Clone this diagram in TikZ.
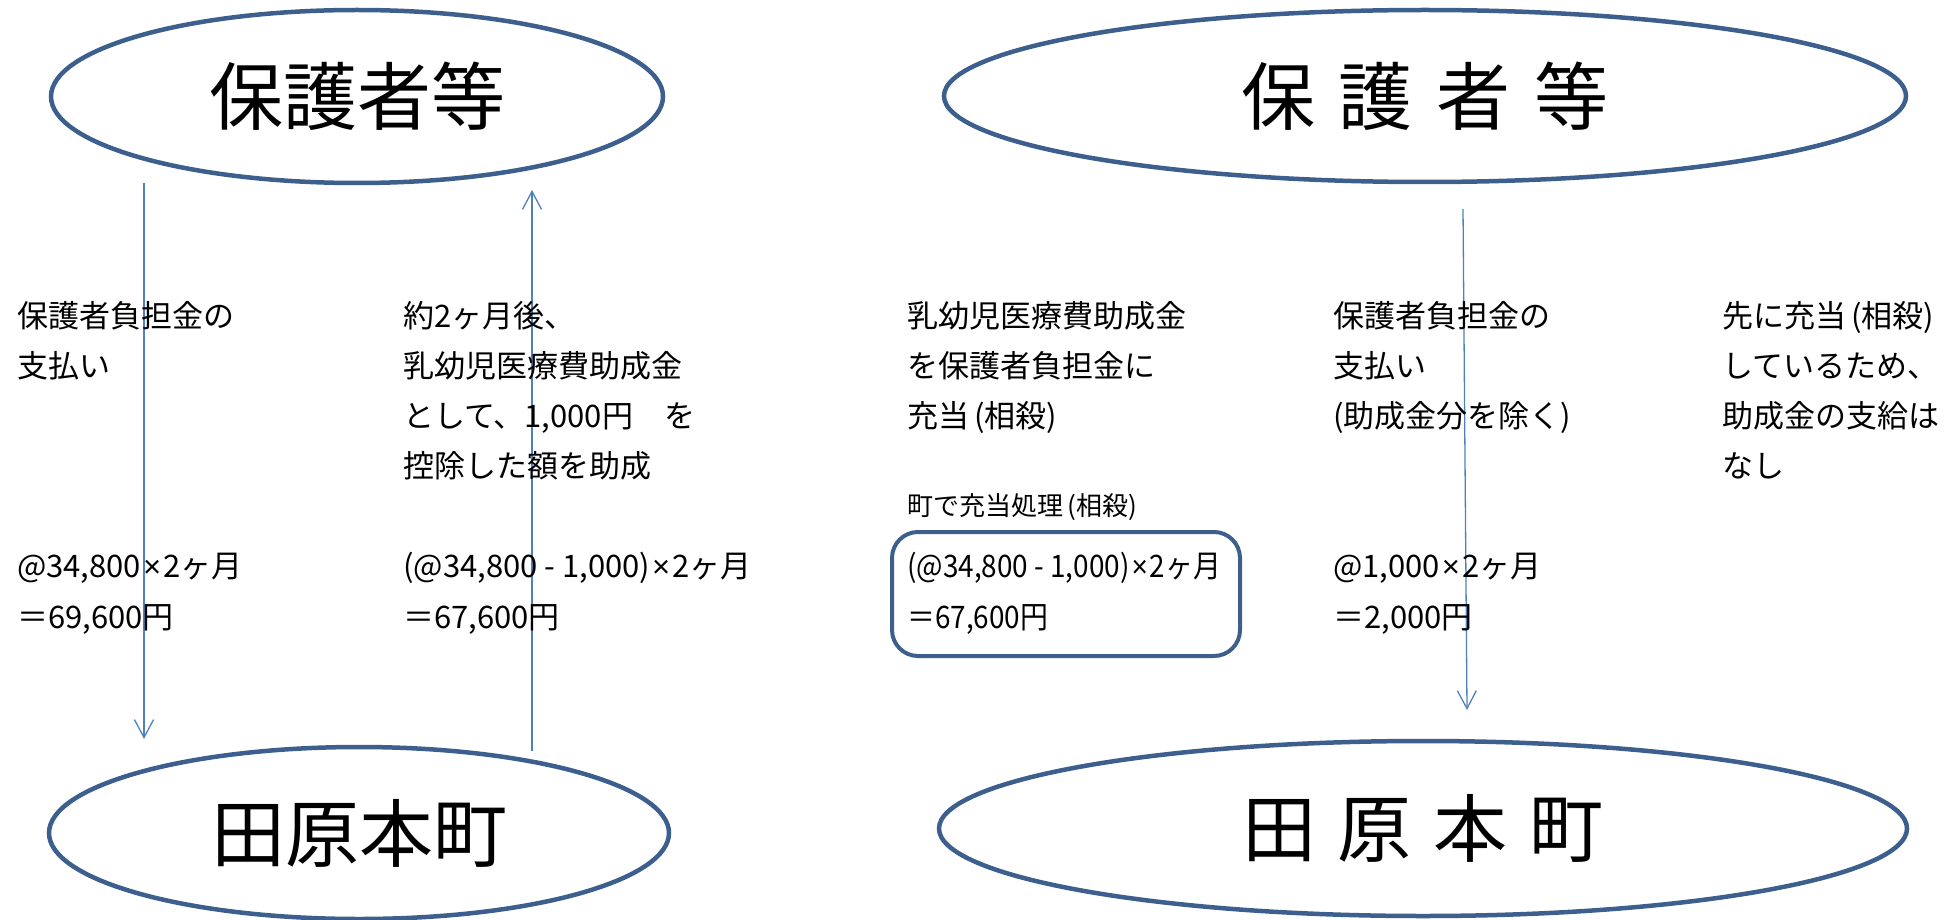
\documentclass[tikz,border=0pt]{standalone}
\usepackage{fontspec}
\setmainfont{Noto Sans CJK JP}
\newfontfamily\latn{Liberation Sans}
\newfontfamily\condjp[FakeStretch=0.9]{Noto Sans CJK JP}
\newfontfamily\condlatn[FakeStretch=0.9]{Liberation Sans}
\newcommand{\tms}{\hspace{2pt}{\latn ×}\hspace{2pt}}
\newcommand{\ctms}{\hspace{2pt}{\condlatn ×}\hspace{2pt}}
\usetikzlibrary{shapes.geometric,arrows.meta}
\definecolor{ellc}{RGB}{60,95,142}
\definecolor{arrc}{RGB}{79,129,189}
\begin{document}
\begin{tikzpicture}[x=1pt,y=-1pt,
  oval/.style={ellipse, draw=ellc, line width=4.5pt, inner sep=0pt, font=\fontsize{74}{74}\selectfont},
  txt/.style={anchor=base west, inner sep=0pt, font=\fontsize{31}{31}\selectfont},
  ctxt/.style={anchor=base west, inner sep=0pt, font=\condjp\fontsize{31}{31}\selectfont},
  small/.style={anchor=base west, inner sep=0pt, font=\fontsize{26}{26}\selectfont},
  flow/.style={draw=arrc, line width=1.3pt, -{Straight Barb[length=18pt,width=19pt]}},
  sumbox/.style={draw=ellc, line width=4pt, rounded corners=26pt, inner sep=0pt}]
\useasboundingbox (0,0) rectangle (1959,920);

% ellipses
\node[oval, minimum width=612pt, minimum height=173pt] (gl) at (357,96.5) {保護者等};
\node[oval, minimum width=962pt, minimum height=172pt] (gr) at (1425,96) {保\hspace{24pt}護\hspace{24pt}者\hspace{24pt}等};
\node[oval, minimum width=620pt, minimum height=172pt] (tl) at (359,833) {田原本町};
\node[oval, minimum width=968pt, minimum height=175pt] (tr) at (1423,828.5) {田\hspace{22pt}原\hspace{22pt}本\hspace{22pt}町};

% arrows
\coordinate (a1s) at (144,183);
\coordinate (a1e) at (144,739);
\coordinate (a2s) at (532,751);
\coordinate (a2e) at (532,190);
\coordinate (a3s) at (1463,209);
\coordinate (a3e) at (1467,710);
\draw[flow] (a1s) -- (a1e);
\draw[flow] (a2s) -- (a2e);
\draw[flow] (a3s) -- (a3e);

% column 1
\node[txt] (c1a) at (17,327) {保護者負担金の};
\node[txt] (c1b) at (17,377) {支払い};
\node[txt] (c1c) at (17,577) {@34,800\tms 2ヶ月};
\node[txt] (c1d) at (17,628) {＝69,600円};

% column 2
\node[txt] (c2a) at (403,327) {約2ヶ月後、};
\node[txt] (c2b) at (403,377) {乳幼児医療費助成金};
\node[txt] (c2c) at (403,427) {として、1,000円　を};
\node[txt] (c2d) at (403,477) {控除した額を助成};
\node[txt] (c2e) at (403,577) {(@34,800 - 1,000)\tms 2ヶ月};
\node[txt] (c2f) at (403,628) {＝67,600円};

% column 3
\node[txt] (c3a) at (907,327) {乳幼児医療費助成金};
\node[txt] (c3b) at (907,377) {を保護者負担金に};
\node[txt] (c3c) at (907,427) {充当\,(相殺)};
\node[small] (c3d) at (907,515) {町で充当処理\,(相殺)};
\node[sumbox, minimum width=348pt, minimum height=124pt] (box) at (1066,594) {};
\node[ctxt] (c3e) at (907,577) {(@34,800 - 1,000)\ctms 2ヶ月};
\node[ctxt] (c3f) at (907,628) {＝67,600円};

% column 4
\node[txt] (c4a) at (1333,327) {保護者負担金の};
\node[txt] (c4b) at (1333,377) {支払い};
\node[txt] (c4c) at (1333,427) {(助成金分を除く)};
\node[txt] (c4d) at (1333,577) {@1,000\tms 2ヶ月};
\node[txt] (c4e) at (1333,628) {＝2,000円};

% column 5
\node[txt] (c5a) at (1722,327) {先に充当\,(相殺)};
\node[txt] (c5b) at (1722,377) {しているため、};
\node[txt] (c5c) at (1722,427) {助成金の支給は};
\node[txt] (c5d) at (1722,477) {なし};
\end{tikzpicture}
\end{document}
